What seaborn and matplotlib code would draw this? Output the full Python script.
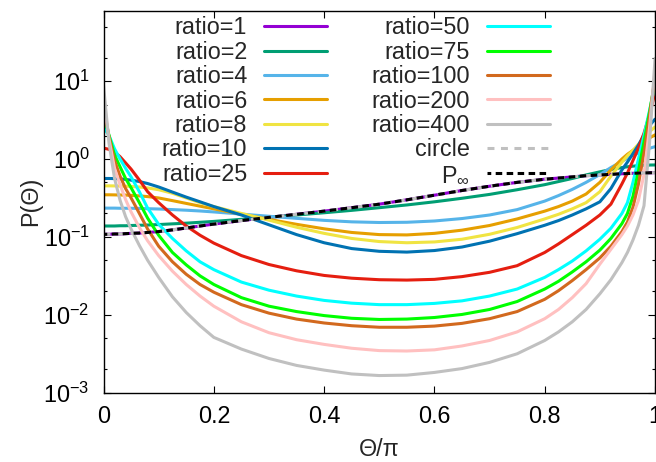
import seaborn as sns
import matplotlib.pyplot as plt
from matplotlib.ticker import LogLocator, NullFormatter

# Theta/pi sample positions
theta = [0, 0.01, 0.02, 0.03, 0.04, 0.05, 0.065, 0.08, 0.1, 0.125, 0.15, 0.175, 0.2,
         0.25, 0.3, 0.35, 0.4, 0.45, 0.5, 0.55, 0.6, 0.65, 0.7, 0.75, 0.8, 0.825,
         0.85, 0.875, 0.9, 0.92, 0.94, 0.95, 0.96, 0.97, 0.98, 0.99, 1.0]

# P(Theta) for each aspect ratio
ratio_1 = [0.108, 0.108, 0.109, 0.109, 0.110, 0.111, 0.112, 0.114, 0.117, 0.123, 0.130, 0.138, 0.146,
           0.162, 0.178, 0.195, 0.214, 0.237, 0.263, 0.299, 0.343, 0.394, 0.447, 0.501, 0.550, 0.569,
           0.589, 0.610, 0.624, 0.635, 0.646, 0.650, 0.655, 0.659, 0.662, 0.665, 0.668]
ratio_2 = [0.138, 0.138, 0.138, 0.139, 0.139, 0.140, 0.141, 0.142, 0.144, 0.147, 0.150, 0.154, 0.158,
           0.168, 0.179, 0.191, 0.204, 0.219, 0.237, 0.257, 0.282, 0.313, 0.351, 0.403, 0.468, 0.513,
           0.562, 0.624, 0.684, 0.733, 0.776, 0.794, 0.809, 0.820, 0.830, 0.836, 0.838]
ratio_4 = [0.234, 0.234, 0.234, 0.233, 0.233, 0.233, 0.232, 0.230, 0.228, 0.224, 0.220, 0.215, 0.209,
           0.196, 0.184, 0.173, 0.163, 0.156, 0.153, 0.154, 0.160, 0.172, 0.191, 0.224, 0.288, 0.339,
           0.407, 0.501, 0.631, 0.776, 0.933, 1.02, 1.11, 1.20, 1.29, 1.37, 1.44]
ratio_6 = [0.347, 0.347, 0.346, 0.345, 0.344, 0.341, 0.336, 0.329, 0.316, 0.292, 0.269, 0.248, 0.229,
           0.195, 0.168, 0.145, 0.127, 0.114, 0.107, 0.106, 0.111, 0.122, 0.140, 0.170, 0.214, 0.245,
           0.288, 0.355, 0.501, 0.724, 1.00, 1.15, 1.29, 1.46, 1.66, 1.86, 2.04]
ratio_8 = [0.452, 0.452, 0.451, 0.449, 0.447, 0.444, 0.437, 0.425, 0.403, 0.363, 0.316, 0.275, 0.245,
           0.200, 0.164, 0.133, 0.111, 0.0955, 0.0871, 0.0841, 0.0861, 0.0933, 0.108, 0.132, 0.170, 0.195,
           0.229, 0.275, 0.380, 0.603, 0.912, 1.10, 1.29, 1.55, 1.86, 2.24, 2.57]
ratio_10 = [0.562, 0.562, 0.560, 0.555, 0.547, 0.535, 0.513, 0.484, 0.437, 0.376, 0.324, 0.282, 0.245,
            0.191, 0.143, 0.107, 0.0841, 0.0708, 0.0653, 0.0638, 0.0668, 0.0741, 0.0881, 0.110, 0.141, 0.162,
            0.191, 0.229, 0.282, 0.417, 0.724, 0.912, 1.17, 1.51, 2.04, 2.69, 3.24]
ratio_25 = [1.38, 1.33, 1.23, 1.07, 0.891, 0.741, 0.537, 0.380, 0.275, 0.191, 0.138, 0.105, 0.0832,
            0.0575, 0.0442, 0.0367, 0.0320, 0.0295, 0.0282, 0.0279, 0.0285, 0.0309, 0.0351, 0.0427, 0.0631, 0.0813,
            0.107, 0.141, 0.191, 0.263, 0.479, 0.661, 0.955, 1.38, 2.14, 3.72, 7.08]
ratio_50 = [2.57, 2.00, 1.35, 1.00, 0.759, 0.589, 0.380, 0.234, 0.145, 0.0955, 0.0661, 0.0479, 0.0380,
            0.0263, 0.0207, 0.0174, 0.0153, 0.0141, 0.0135, 0.0135, 0.0140, 0.0151, 0.0174, 0.0214, 0.0302, 0.0380,
            0.0490, 0.0661, 0.0933, 0.129, 0.200, 0.275, 0.501, 1.00, 2.00, 4.17, 8.91]
ratio_75 = [3.80, 2.00, 1.12, 0.794, 0.562, 0.427, 0.275, 0.174, 0.105, 0.0631, 0.0437, 0.0316, 0.0245,
            0.0166, 0.0129, 0.0110, 0.00977, 0.00902, 0.00871, 0.00881, 0.00923, 0.0101, 0.0117, 0.0148, 0.0214, 0.0269,
            0.0355, 0.0479, 0.0676, 0.0955, 0.148, 0.200, 0.331, 0.708, 1.66, 3.98, 10.0]
ratio_100 = [4.79, 1.91, 0.955, 0.603, 0.417, 0.316, 0.200, 0.126, 0.0759, 0.0479, 0.0331, 0.0245, 0.0195,
             0.0135, 0.0105, 0.00881, 0.00785, 0.00724, 0.00692, 0.00692, 0.00716, 0.00776, 0.00891, 0.0110, 0.0158, 0.0204,
             0.0275, 0.0380, 0.0537, 0.0759, 0.117, 0.155, 0.240, 0.479, 1.20, 3.55, 11.2]
ratio_200 = [6.03, 1.78, 0.759, 0.468, 0.302, 0.209, 0.132, 0.0891, 0.0575, 0.0363, 0.0245, 0.0174, 0.0129,
             0.00813, 0.00589, 0.00479, 0.00417, 0.00372, 0.00347, 0.00343, 0.00355, 0.00398, 0.00468, 0.00603, 0.00891, 0.0117,
             0.0166, 0.0251, 0.0447, 0.0692, 0.107, 0.138, 0.191, 0.295, 0.631, 2.51, 14.1]
ratio_400 = [8.91, 1.58, 0.562, 0.295, 0.182, 0.126, 0.0776, 0.0501, 0.0302, 0.0170, 0.0107, 0.00724, 0.00513,
             0.00363, 0.00275, 0.00224, 0.00195, 0.00174, 0.00166, 0.00168, 0.00182, 0.00204, 0.00245, 0.00316, 0.00468, 0.00603,
             0.00813, 0.0117, 0.0186, 0.0282, 0.0468, 0.0631, 0.0912, 0.141, 0.251, 1.58, 19.5]
circle = [0.108, 0.108, 0.109, 0.109, 0.110, 0.111, 0.112, 0.114, 0.117, 0.123, 0.130, 0.138, 0.146,
          0.162, 0.178, 0.195, 0.214, 0.237, 0.263, 0.299, 0.343, 0.394, 0.447, 0.501, 0.550, 0.569,
          0.589, 0.610, 0.624, 0.635, 0.646, 0.650, 0.655, 0.659, 0.662, 0.665, 0.668]
p_inf = [0.108, 0.108, 0.109, 0.109, 0.110, 0.111, 0.112, 0.114, 0.117, 0.123, 0.130, 0.138, 0.146,
         0.162, 0.178, 0.195, 0.214, 0.237, 0.263, 0.299, 0.343, 0.394, 0.447, 0.501, 0.550, 0.569,
         0.589, 0.610, 0.624, 0.635, 0.646, 0.650, 0.655, 0.659, 0.662, 0.665, 0.668]

ratio_labels = ['ratio=1', 'ratio=2', 'ratio=4', 'ratio=6', 'ratio=8', 'ratio=10', 'ratio=25',
                'ratio=50', 'ratio=75', 'ratio=100', 'ratio=200', 'ratio=400']
ratio_colors = ['#9400d3', '#009e73', '#56b4e9', '#e69f00', '#f0e442', '#0072b2', '#e51e10',
                '#00ffff', '#00ff00', '#d2691e', '#ffc0c0', '#c0c0c0']
series = [ratio_1, ratio_2, ratio_4, ratio_6, ratio_8, ratio_10, ratio_25,
          ratio_50, ratio_75, ratio_100, ratio_200, ratio_400]

x_ticks = [0, 0.2, 0.4, 0.6, 0.8, 1.0]
x_tick_labels = ['0', '0.2', '0.4', '0.6', '0.8', '1']

sns.set_style("ticks")
plt.rcParams['font.family'] = ['Liberation Sans', 'DejaVu Sans']
plt.rcParams['mathtext.fontset'] = 'custom'
plt.rcParams['mathtext.rm'] = 'Liberation Sans'
plt.rcParams['mathtext.it'] = 'Liberation Sans:italic'
plt.rcParams['lines.scale_dashes'] = False

fs = 16.8
fig = plt.figure(figsize=(6.56, 4.62), dpi=100)
ax = fig.add_axes([0.1578, 0.150, 0.8407, 0.8268])

for vals, lab, col in zip(series, ratio_labels, ratio_colors):
    sns.lineplot(x=theta, y=vals, ax=ax, color=col, linewidth=2.2, label=lab,
                 estimator=None, sort=False)

sns.lineplot(x=theta, y=circle, ax=ax, color='#c0c0c0', linewidth=2.2, label='circle',
             estimator=None, sort=False)
ax.lines[-1].set_linestyle((0, (5.0, 4.7)))
sns.lineplot(x=theta, y=p_inf, ax=ax, color='black', linewidth=2.2, label=r'P$_{\infty}$',
             estimator=None, sort=False)
ax.lines[-1].set_linestyle((2, (4.7, 3.2)))

ax.set_yscale('log')
ax.set_xlim(0, 1)
ax.set_ylim(1e-3, 80)
ax.set_xticks(x_ticks)
ax.set_xticklabels(x_tick_labels)
ax.yaxis.set_major_locator(LogLocator(base=10, numticks=10))
ax.yaxis.set_minor_locator(LogLocator(base=10, subs=(2.0, 5.0), numticks=10))
ax.yaxis.set_minor_formatter(NullFormatter())

ax.tick_params(which='both', direction='in', top=True, right=True, width=0.8,
               labelsize=fs, colors='black')
ax.tick_params(which='major', length=5)
ax.tick_params(which='minor', length=2.5)
ax.tick_params(axis='x', pad=9)
ax.tick_params(axis='y', pad=10)
for sp in ax.spines.values():
    sp.set_linewidth(1.0)
    sp.set_color('black')

ax.set_xlabel('Θ/π', fontsize=fs, labelpad=7)
ax.set_ylabel('P(Θ)', fontsize=fs, labelpad=1)

leg = ax.legend(ncol=2, loc='upper left', bbox_to_anchor=(0.1055, 0.985), frameon=False,
                fontsize=fs, markerfirst=False, handlelength=2.7, handletextpad=0.72,
                columnspacing=1.9, labelspacing=0.06, borderpad=0, borderaxespad=0)
for column in leg._legend_box.get_children()[-1].get_children():
    column.align = 'right'

fig.savefig('out.png', dpi=100)
